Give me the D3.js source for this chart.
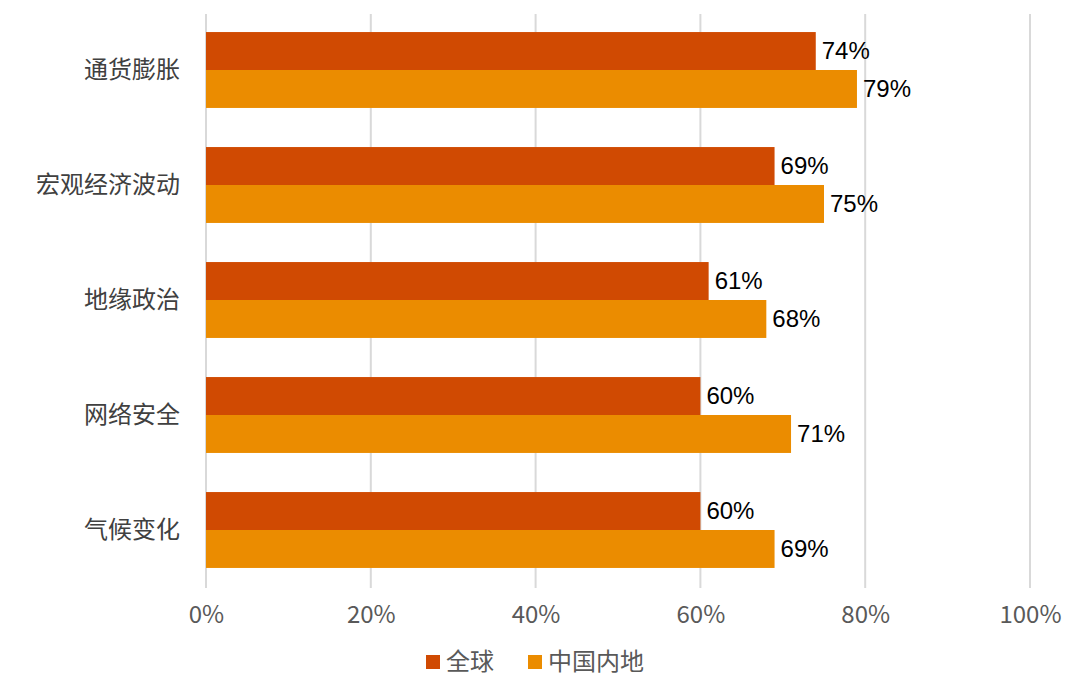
<!DOCTYPE html>
<html><head><meta charset="utf-8">
<script src="https://cdn.jsdelivr.net/npm/d3@7"></script>
<style>body{margin:0;background:#fff}text{font-family:"Noto Sans CJK SC","Liberation Sans",sans-serif}</style>
</head><body><div id="chart"></div>
<script>
var categories = ["通货膨胀", "宏观经济波动", "地缘政治", "网络安全", "气候变化"];
var seriesNames = ["全球", "中国内地"];
var globalValues = [74, 69, 61, 60, 60];
var chinaValues = [79, 75, 68, 71, 69];
var xTicks = [0, 20, 40, 60, 80, 100];
var colors = ["#D04A02", "#EB8C00"];

var svg = d3.select("#chart").append("svg").attr("width", 1080).attr("height", 690);

var x = d3.scaleLinear().domain([0, 100]).range([206, 1030]);
var y = d3.scaleBand().domain(categories).range([12.5, 587.5]).paddingInner(0.34).paddingOuter(0.17);
var inner = d3.scaleBand().domain([0, 1]).range([0, y.bandwidth()]);

// gridlines
svg.append("g").selectAll("line").data(xTicks).enter().append("line")
  .attr("x1", d => x(d)).attr("x2", d => x(d))
  .attr("y1", 14).attr("y2", 588)
  .attr("stroke", "#d9d9d9").attr("stroke-width", 2);

var xAxis = d3.axisBottom(x).tickValues(xTicks).tickFormat(d => d + "%").tickSize(0).tickPadding(18);
var gx = svg.append("g").attr("transform", "translate(0,588)").call(xAxis);
gx.select(".domain").remove();
gx.selectAll("text").attr("font-size", 24).attr("fill", "#595959");

var rows = categories.map((c, i) => ({ cat: c, vals: [globalValues[i], chinaValues[i]] }));

var groups = svg.selectAll(".grp").data(rows).enter().append("g")
  .attr("transform", d => "translate(0," + y(d.cat) + ")");

groups.selectAll("rect").data(d => d.vals).enter().append("rect")
  .attr("x", x(0)).attr("y", (d, j) => inner(j))
  .attr("width", d => x(d) - x(0)).attr("height", inner.bandwidth())
  .attr("fill", (d, j) => colors[j]);

groups.selectAll(".val").data(d => d.vals).enter().append("text")
  .attr("x", d => x(d) + 6).attr("y", (d, j) => inner(j) + inner.bandwidth() / 2)
  .attr("dy", "0.35em").attr("font-size", 24).attr("fill", "#000")
  .style("font-family", "'Liberation Sans',sans-serif")
  .text(d => d + "%");

svg.append("g").selectAll("text").data(categories).enter().append("text")
  .attr("x", 180).attr("y", d => y(d) + y.bandwidth() / 2)
  .attr("dy", "0.35em").attr("text-anchor", "end")
  .attr("font-size", 24).attr("fill", "#404040").text(d => d);

// legend
var lx = [426, 528];
var leg = svg.append("g").selectAll("g").data(seriesNames).enter().append("g")
  .attr("transform", (d, i) => "translate(" + lx[i] + ",662)");
leg.append("rect").attr("x", 0).attr("y", -7).attr("width", 14).attr("height", 14)
  .attr("fill", (d, i) => colors[i]);
leg.append("text").attr("x", 20).attr("dy", "0.35em").attr("font-size", 24)
  .attr("fill", "#595959").text(d => d);
</script></body></html>
